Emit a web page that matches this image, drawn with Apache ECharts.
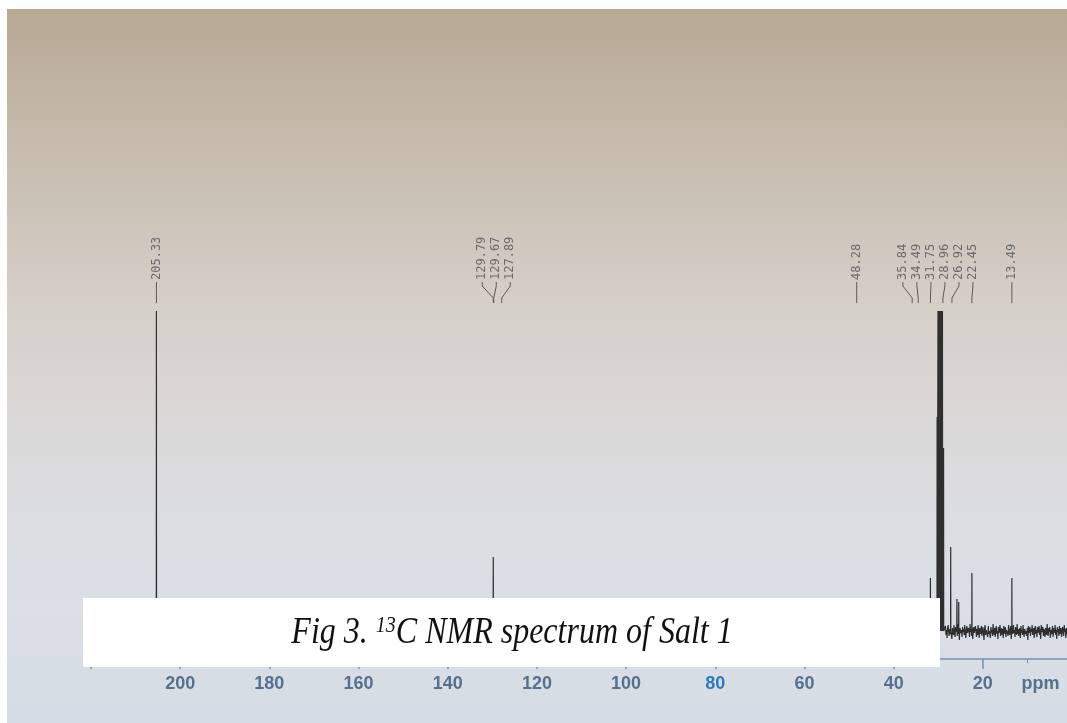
<!DOCTYPE html>
<html>
<head>
<meta charset="utf-8">
<script src="https://cdn.jsdelivr.net/npm/echarts@6/dist/echarts.min.js"></script>
<style>
html, body { margin: 0; padding: 0; background: #fff; }
#chart { width: 1067px; height: 723px; }
</style>
</head>
<body>
<div id="chart"></div>
<script>
// peak-pick list printed above the spectrum (ppm)
const pickedPeaks = [205.33, 129.79, 129.67, 127.89, 48.28, 35.84, 34.49, 31.75, 28.96, 26.92, 22.45, 13.49];

// stick peaks drawn in the spectrum: position (ppm) and height (clipped at 320)
const peakPpm =    [205.33, 129.79, 129.67, 127.89, 48.28, 35.84, 34.49, 31.75, 30.25, 30.05, 29.85, 29.65, 29.45, 29.25, 29.05, 28.8, 27.2, 25.8, 25.4, 22.45, 13.49];
const peakHeight = [320,    74,     20,     18,     15,    12,    12,    53,    214,   320,   320,   320,   320,   320,   320,   183,  84,   32,   29,   58,    53];

// baseline noise right of the solvent multiplet, one reading every 0.12 ppm from 28.5 ppm
const noiseStart = 28.5;
const noiseStep = 0.12;
const noise = [
  -2, 5, -4, 1, -7, 3, 6, -1, -5, 2, -3, 4, 0, -8, 3, 1, -4, 6, -2, -6,
  4, -1, 2, -5, 7, -3, 0, -9, 3, 5, -2, 1, -6, 4, -1, 2, -4, 6, -3, -7,
  1, 5, -2, -4, 3, 0, -6, 7, -1, 2, -5, 3, -8, 1, 4, -2, -3, 5, 0, -6,
  2, -4, 6, -1, -7, 3, 1, -3, 5, -5, 0, 4, -2, -9, 2, 6, -4, 1, -1, 3,
  -6, 5, -3, 0, 2, -7, 4, -2, 1, -5, 7, -1, -4, 3, -6, 2, 5, -3, 0, -8,
  4, -2, 1, 6, -5, -1, 3, -4, 2, -7, 5, 0, -3, 4, -6, 1, 3, -2, -5, 6,
  -1, -4, 2, 5, -8, 3, 0, -3, 6, -2, 1, -6, 4, -1, -4, 7, -3, 2, -5, 0,
  3, -7, 5, -2, 1, -4, 6, -1, -6, 2, 4, -3, 0, -5, 3, -9, 5, 1, -2, 4,
  -5, 2, -1, 6, -4, 0, 3, -7, 2, 5, -3, 1, -6, 4, -2, 0, 5, -4, 2, -8,
  6, -1, -3, 4, -5, 2, 0, -6, 3, 1, -4, 7, -2, -5, 3, -1, 4, -7, 1, 2,
  -3, 5, -6, 0, 3, -2, 6, -4, 1, -8, 4, -1, 2, -5, 5, -3, 0, 3, -6, 1,
  4, -2, -5, 6, -1, 2, -7, 3, 0, -4, 5, -2, 1, -6, 3, 6, -3, -1, 2, -5
];

// labelled ticks on the ppm axis
const xTicks = [200, 180, 160, 140, 120, 100, 80, 60, 40, 20];

const chart = echarts.init(document.getElementById('chart'));

// stick spectrum + noise, sorted from high to low ppm
const points = [[220, 0]];
peakPpm.forEach((p, i) => {
  points.push([p + 0.03, 0], [p, peakHeight[i]], [p - 0.03, 0]);
});
noise.forEach((v, i) => points.push([noiseStart - i * noiseStep, v]));
points.sort((a, b) => b[0] - a[0]);

const tickFont = { fontFamily: 'Liberation Sans', fontWeight: 'bold', fontSize: 18 };

chart.setOption({
  animation: false,
  grid: { left: 91, right: -5, top: 311, bottom: 64, containLabel: false, outerBoundsMode: 'none' },
  xAxis: {
    type: 'value',
    inverse: true,
    min: 0,
    max: 220,
    interval: 20,
    splitLine: { show: false },
    axisLine: { onZero: false, lineStyle: { color: '#7491b2', width: 1.5 } },
    axisTick: { length: 10, lineStyle: { color: '#7491b2', width: 1.5 } },
    minorTick: { show: true, splitNumber: 2, length: 4, lineStyle: { color: '#7491b2' } },
    axisLabel: {
      ...tickFont,
      color: '#56708e',
      margin: 16,
      formatter: v => (xTicks.includes(v) ? (v === 80 ? '{b|80}' : String(v)) : ''),
      rich: { b: { ...tickFont, color: '#2f77c0' } }
    }
  },
  yAxis: { type: 'value', min: -28, max: 320, show: false },
  series: [{
    type: 'line',
    data: points,
    showSymbol: false,
    sampling: null,
    lineStyle: { color: '#2f2f2f', width: 1.2 },
    z: 2
  }]
});

// spread labels so neighbours are at least `gap` px apart (centred groups)
function spread(xs, gap) {
  const groups = xs.map(x => ({ xs: [x] }));
  const pos = g => {
    const m = g.xs.reduce((a, b) => a + b, 0) / g.xs.length;
    return g.xs.map((_, k) => m + (k - (g.xs.length - 1) / 2) * gap);
  };
  let changed = true;
  while (changed) {
    changed = false;
    for (let i = 1; i < groups.length; i++) {
      const a = pos(groups[i - 1]);
      const b = pos(groups[i]);
      if (b[0] - a[a.length - 1] < gap) {
        groups[i - 1].xs = groups[i - 1].xs.concat(groups[i].xs);
        groups.splice(i, 1);
        changed = true;
        break;
      }
    }
  }
  return groups.flatMap(pos);
}

const peakX = pickedPeaks.map(p => chart.convertToPixel({ xAxisIndex: 0 }, p));
const labelX = spread(peakX, 14);

const graphics = [
  {
    type: 'rect', z: -10, silent: true,
    shape: { x: 7, y: 9, width: 1060, height: 714 },
    style: {
      fill: new echarts.graphic.LinearGradient(0, 0, 0, 1, [
        { offset: 0, color: '#b8a994' },
        { offset: 0.2, color: '#c7bcae' },
        { offset: 0.42, color: '#d6d0ca' },
        { offset: 0.65, color: '#dcdcde' },
        { offset: 0.85, color: '#dadfe6' },
        { offset: 1, color: '#d6dce5' }
      ])
    }
  },
  {
    type: 'rect', z: 100, silent: true,
    shape: { x: 83, y: 598, width: 857, height: 69 },
    style: { fill: '#ffffff' }
  },
  {
    type: 'text', z: 101, silent: true,
    x: 512, y: 633, scaleY: 1.18,
    style: {
      text: '{n|Fig 3. }{s|13}{n|C NMR spectrum of Salt 1}',
      align: 'center',
      verticalAlign: 'middle',
      fill: '#111',
      rich: {
        n: { fontFamily: 'Liberation Serif', fontStyle: 'italic', fontSize: 32, fill: '#111' },
        s: { fontFamily: 'Liberation Serif', fontStyle: 'italic', fontSize: 20, verticalAlign: 'top', fill: '#111' }
      }
    }
  },
  {
    type: 'text', z: 50, silent: true,
    x: chart.convertToPixel({ xAxisIndex: 0 }, 11.3), y: 684,
    style: { text: 'ppm', ...tickFont, fill: '#56708e', align: 'left', verticalAlign: 'middle' }
  }
];

pickedPeaks.forEach((p, i) => {
  graphics.push({
    type: 'text', z: 50, silent: true,
    x: labelX[i], y: 280, rotation: Math.PI / 2,
    style: {
      text: p.toFixed(2),
      fontFamily: 'DejaVu Sans Mono', fontSize: 12,
      fill: '#6a6a6a', align: 'left', verticalAlign: 'middle'
    }
  });
  graphics.push({
    type: 'polyline', z: 50, silent: true,
    shape: { points: [[labelX[i], 282], [labelX[i], 286], [peakX[i], 298], [peakX[i], 303]] },
    style: { stroke: '#5a5a5a', lineWidth: 1, fill: null }
  });
});

chart.setOption({ graphic: graphics });
</script>
</body>
</html>
